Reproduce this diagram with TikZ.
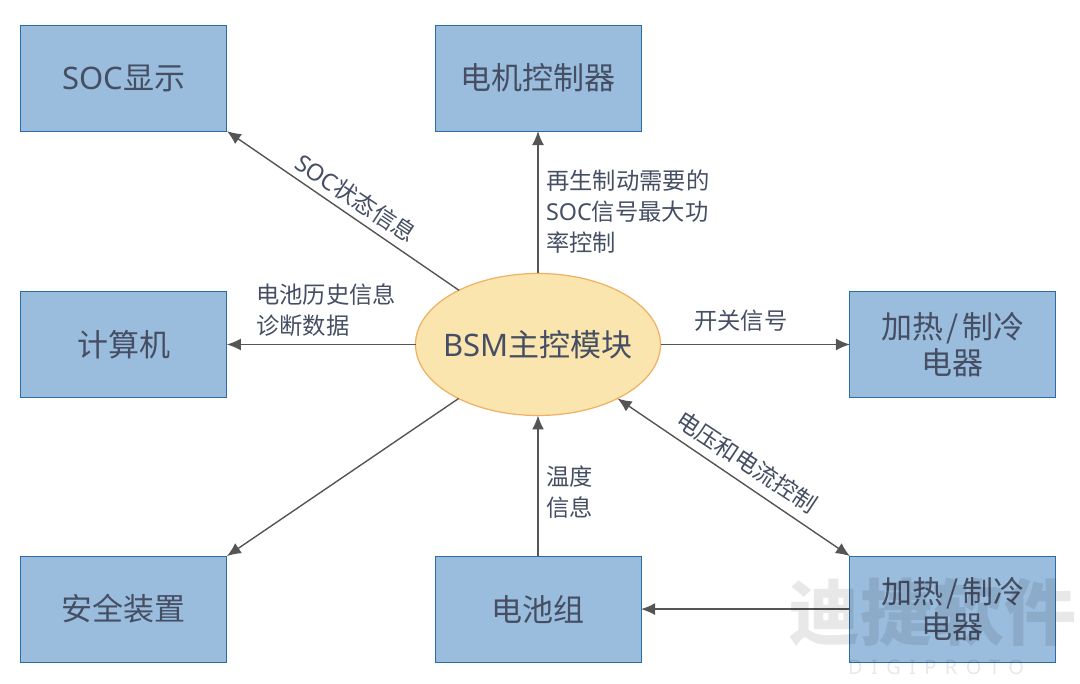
\documentclass[tikz,border=0pt]{standalone}
\usepackage{fontspec}
\setmainfont{Noto Sans}
\newfontfamily\cjk{Noto Sans CJK SC}
\newfontfamily\spaced[LetterSpace=42]{Noto Sans}
\usetikzlibrary{arrows.meta,shapes.geometric}
\definecolor{boxblue}{RGB}{154,188,221}
\definecolor{boxline}{RGB}{43,108,168}
\definecolor{mainfill}{RGB}{250,229,174}
\definecolor{mainline}{RGB}{240,176,96}
\definecolor{textgrey}{RGB}{69,78,98}
\definecolor{linkgrey}{RGB}{85,85,85}
\newcommand{\lat}[1]{{\rmfamily #1}}
\newcommand{\heatname}{加热\hspace{3.5pt}/\hspace{3.5pt}制冷\\电器}
\tikzset{
  unitbox/.style={draw=boxline,fill=boxblue,line width=1pt,minimum width=206pt,minimum height=106pt,
    inner sep=0pt,outer sep=0pt,align=center,text=textgrey,font=\fontsize{31}{35.5}\selectfont\cjk},
  mainunit/.style={ellipse,draw=mainline,fill=mainfill,line width=1.2pt,minimum width=245pt,minimum height=142pt,
    inner sep=0pt,inner xsep=-10pt,outer sep=0pt,text=textgrey,font=\fontsize{31}{36}\selectfont\cjk},
  linklabel/.style={text=textgrey,align=left,inner sep=0pt,font=\fontsize{23.3}{31}\selectfont\cjk},
  link/.style={draw=linkgrey,line width=1.4pt,-{Latex[length=14pt,width=12pt]}},
  marktext/.style={text=black,opacity=0.09}
}
\begin{document}
\begin{tikzpicture}[x=1pt,y=-1pt]
  \useasboundingbox (0,0) rectangle (1080,684);
  % units round the main module
  \node[mainunit] (bsm) at (538,344.5) {\lat{BSM}主控模块};
  \node[unitbox] (soc) at (123.9,78.1) {\lat{SOC}显示};
  \node[unitbox] (motor) at (538,78.1) {电机控制器};
  \node[unitbox] (pc) at (123.9,344.5) {计算机};
  \node[unitbox] (heatA) at (952.9,344.5) {\heatname};
  \node[unitbox] (safety) at (123.9,609.1) {安全装置};
  \node[unitbox] (pack) at (538,609.1) {电池组};
  \node[unitbox] (heatB) at (952.9,609.1) {\heatname};
  % links
  \draw[link] (bsm) -- (soc.south east);
  \draw[link] (bsm) -- (motor);
  \draw[link] (bsm) -- (pc);
  \draw[link] (bsm) -- (heatA);
  \draw[link] (bsm) -- (safety.north east);
  \draw[link] (pack) -- (bsm);
  \draw[link,{Latex[length=14pt,width=12pt]}-{Latex[length=14pt,width=12pt]}] (bsm) -- (heatB.north west);
  \draw[link] (heatB) -- (pack);
  % link labels
  \node[linklabel,rotate=-33.5] (socinfo) at (356,198) {\lat{SOC}状态信息};
  \node[linklabel,anchor=west] (regen) at (546,212) {再生制动需要的\\\lat{SOC}信号最大功\\率控制};
  \node[linklabel,anchor=west] (history) at (256,310.5) {电池历史信息\\诊断数据};
  \node[linklabel,anchor=west] (switch) at (694,321) {开关信号};
  \node[linklabel,anchor=west] (temp) at (546,492) {温度\\信息};
  \node[linklabel,rotate=-33.5] (volt) at (747,462) {电压和电流控制};
  % mark over the corner
  \node[marktext,font=\fontsize{72}{72}\selectfont\cjk\bfseries] (logo) at (932,612) {迪捷软件};
  \node[marktext,font=\fontsize{20}{20}\selectfont\spaced] (logoname) at (936,667) {DIGIPROTO};
\end{tikzpicture}
\end{document}
